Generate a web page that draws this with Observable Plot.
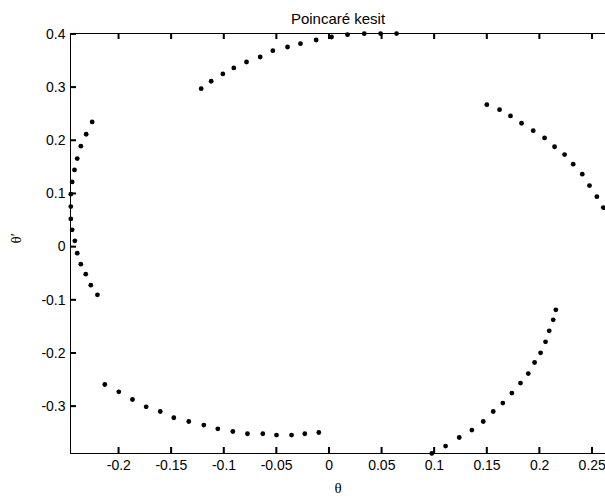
<!DOCTYPE html>
<html>
<head>
<meta charset="utf-8">
<script src="https://cdn.jsdelivr.net/npm/d3@7"></script>
<script src="https://cdn.jsdelivr.net/npm/@observablehq/plot@0.6"></script>
<style>
  html, body { margin: 0; padding: 0; background: #fff; }
</style>
</head>
<body>
<div id="chart"></div>
<script>
// Poincaré section points, grouped by arc (θ, θ′)
const arcTopTheta = [-0.1217, -0.1122, -0.1011, -0.0907, -0.0786, -0.0656, -0.0536, -0.0396, -0.0273, -0.0124, 0.0022, 0.0174, 0.0333, 0.0488, 0.0640];
const arcTopOmega = [0.2976, 0.3115, 0.3252, 0.3365, 0.3477, 0.3571, 0.3690, 0.3759, 0.3821, 0.3891, 0.3947, 0.3991, 0.4010, 0.4012, 0.4012];

const arcLeftTheta = [-0.2253, -0.2310, -0.2361, -0.2395, -0.2421, -0.2443, -0.2456, -0.2456, -0.2456, -0.2443, -0.2418, -0.2395, -0.2361, -0.2314, -0.2266, -0.2203];
const arcLeftOmega = [0.2350, 0.2118, 0.1893, 0.1660, 0.1447, 0.1222, 0.0991, 0.0758, 0.0526, 0.0320, 0.0113, -0.0119, -0.0325, -0.0513, -0.0720, -0.0902];

const arcRightTheta = [0.1498, 0.1619, 0.1723, 0.1828, 0.1939, 0.2047, 0.2142, 0.2237, 0.2319, 0.2405, 0.2474, 0.2544, 0.2605];
const arcRightOmega = [0.2675, 0.2581, 0.2462, 0.2325, 0.2186, 0.2049, 0.1883, 0.1735, 0.1555, 0.1367, 0.1152, 0.0945, 0.0739];

const arcLowRightTheta = [0.2154, 0.2129, 0.2091, 0.2056, 0.2009, 0.1952, 0.1892, 0.1818, 0.1736, 0.1650, 0.1559, 0.1464, 0.1356, 0.1236, 0.1106, 0.0975];
const arcLowRightOmega = [-0.1184, -0.1372, -0.1579, -0.1786, -0.1992, -0.2175, -0.2382, -0.2562, -0.2750, -0.2938, -0.3096, -0.3284, -0.3445, -0.3585, -0.3746, -0.3885];

const arcLowLeftTheta = [-0.2133, -0.2000, -0.1870, -0.1740, -0.1606, -0.1477, -0.1335, -0.1192, -0.1059, -0.0916, -0.0777, -0.0631, -0.0501, -0.0358, -0.0232, -0.0099];
const arcLowLeftOmega = [-0.2588, -0.2726, -0.2870, -0.3008, -0.3096, -0.3214, -0.3284, -0.3352, -0.3421, -0.3472, -0.3515, -0.3515, -0.3539, -0.3539, -0.3515, -0.3491];

const xTicks = [-0.2, -0.15, -0.1, -0.05, 0, 0.05, 0.1, 0.15, 0.2, 0.25];
const yTicks = [-0.3, -0.2, -0.1, 0, 0.1, 0.2, 0.3, 0.4];
const xDomain = [-0.2459, 0.2626];
const yDomain = [-0.3886, 0.4013];

const titleText = "Poincaré kesit";
const xLabel = "θ";
const yLabel = "θ′";

const arcs = [
  [arcTopTheta, arcTopOmega],
  [arcLeftTheta, arcLeftOmega],
  [arcRightTheta, arcRightOmega],
  [arcLowRightTheta, arcLowRightOmega],
  [arcLowLeftTheta, arcLowLeftOmega]
];
const points = arcs.flatMap(([xs, ys]) => xs.map((x, i) => ({theta: x, omega: ys[i]})));

const fmt = d => String(+d.toFixed(2));

const W = 605, H = 499, mL = 70, mR = 0, mT = 33, mB = 46, tick = 6;
const frameW = W - mL - mR, frameH = H - mT - mB;

// Inward (MATLAB-style) tick marks, positioned with Plot's own scales
function inwardTicks(index, scales, values, dims) {
  const g = d3.create("svg:g")
    .attr("stroke", "black").attr("stroke-width", 1.5).attr("fill", "none");
  const top = dims.marginTop, bottom = dims.height - dims.marginBottom, left = dims.marginLeft;
  for (const t of xTicks) {
    const x = scales.x(t);
    g.append("line").attr("x1", x).attr("x2", x).attr("y1", bottom).attr("y2", bottom - tick);
    g.append("line").attr("x1", x).attr("x2", x).attr("y1", top).attr("y2", top + tick);
  }
  for (const t of yTicks) {
    const y = scales.y(t);
    g.append("line").attr("x1", left).attr("x2", left + tick).attr("y1", y).attr("y2", y);
  }
  return g.node();
}

const chart = Plot.plot({
  width: W,
  height: H,
  marginLeft: mL,
  marginRight: mR,
  marginTop: mT,
  marginBottom: mB,
  style: {fontFamily: "'Liberation Sans', Arial, sans-serif", fontSize: "14px"},
  x: {domain: xDomain},
  y: {domain: yDomain},
  marks: [
    Plot.ruleY([yDomain[0], yDomain[1]], {stroke: "black", strokeWidth: 1}),
    Plot.ruleX([xDomain[0]], {stroke: "black", strokeWidth: 1}),
    Plot.tickX(xTicks, {x: d => d, insetTop: frameH - tick, stroke: "black", strokeWidth: 1.5}),
    Plot.tickX(xTicks, {x: d => d, insetBottom: frameH - tick, stroke: "black", strokeWidth: 1.5}),
    Plot.tickY(yTicks, {y: d => d, insetRight: frameW - tick, stroke: "black", strokeWidth: 1.5}),
    Plot.axisX({anchor: "bottom", ticks: xTicks, tickSize: 0, tickPadding: 7, tickFormat: fmt, label: null, fill: "black"}),
    Plot.axisY({anchor: "left", ticks: yTicks, tickSize: 0, tickPadding: 5, tickFormat: fmt, label: null, fill: "black"}),
    Plot.dot(points, {x: "theta", y: "omega", r: 2.4, fill: "black", stroke: null}),
    Plot.text([titleText], {frameAnchor: "top", dy: -20, fontSize: 15, fill: "black"}),
    Plot.text([xLabel], {frameAnchor: "bottom", dy: 39, fontSize: 15, fontFamily: "'Liberation Serif', 'Times New Roman', serif", fill: "black"}),
    Plot.text([yLabel], {frameAnchor: "left", dx: -54, rotate: -90, fontSize: 15, fontFamily: "'Liberation Serif', 'Times New Roman', serif", fill: "black"}),
    inwardTicks
  ]
});
document.getElementById("chart").appendChild(chart);
</script>
</body>
</html>
